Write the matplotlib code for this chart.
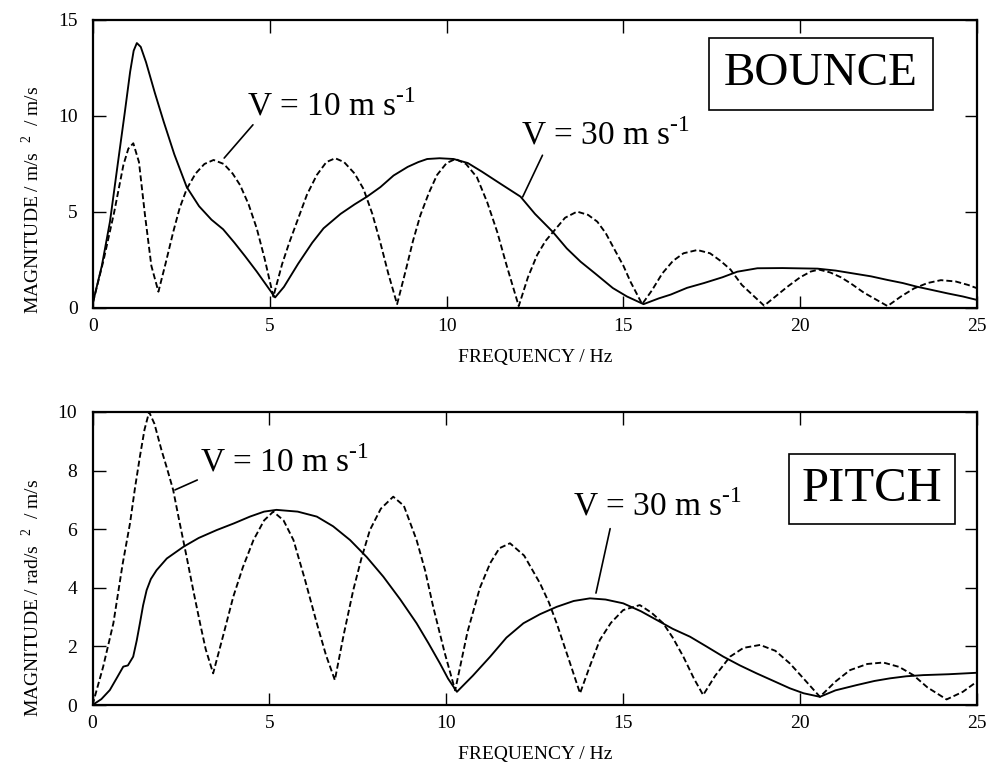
import matplotlib
matplotlib.use("Agg")
import matplotlib.pyplot as plt

plt.rcParams['font.family'] = ['Liberation Serif', 'DejaVu Serif']
plt.rcParams['mathtext.fontset'] = 'custom'
plt.rcParams['mathtext.rm'] = 'Liberation Serif'

# ---------------- BOUNCE data ----------------
bounce_v10_f = [0.0, 0.3, 0.6, 0.86, 1.0, 1.14, 1.3, 1.47, 1.65, 1.85, 2.05, 2.27, 2.45, 2.65, 2.9, 3.15,
                3.41, 3.7, 3.95, 4.16, 4.4, 4.63, 4.85, 5.1, 5.35, 5.55, 5.77, 6.05, 6.33, 6.6, 6.85, 7.1,
                7.4, 7.65, 7.9, 8.12, 8.35, 8.6, 8.85, 9.05, 9.26, 9.5, 9.73, 10.0, 10.25, 10.55, 10.86,
                11.15, 11.43, 11.7, 12.04, 12.3, 12.56, 12.8, 13.03, 13.35, 13.69, 14.0, 14.26, 14.5,
                14.73, 15.0, 15.2, 15.53, 15.8, 16.1, 16.4, 16.7, 17.09, 17.45, 17.75, 18.03, 18.35,
                18.98, 19.3, 19.64, 20.0, 20.3, 20.53, 20.85, 21.15, 21.43, 21.8, 22.47, 22.85, 23.22,
                23.6, 23.98, 24.4, 24.75, 25.0]
bounce_v10_m = [0.3, 2.5, 5.0, 7.45, 8.3, 8.58, 7.6, 4.84, 2.2, 0.85, 2.3, 3.97, 5.2, 6.2, 7.0, 7.5,
                7.71, 7.5, 7.0, 6.4, 5.4, 4.15, 2.6, 0.59, 2.3, 3.4, 4.5, 5.9, 6.93, 7.6, 7.8, 7.6,
                7.0, 6.2, 4.9, 3.45, 1.8, 0.2, 2.0, 3.5, 4.84, 6.0, 6.93, 7.55, 7.76, 7.5, 6.8,
                5.5, 3.97, 2.2, 0.1, 1.6, 2.76, 3.5, 4.0, 4.7, 5.02, 4.85, 4.5, 3.9,
                3.11, 2.2, 1.37, 0.2, 0.9, 1.8, 2.45, 2.85, 3.02, 2.85, 2.45, 2.0, 1.2,
                0.12, 0.6, 1.11, 1.6, 1.9, 2.0, 1.85, 1.6, 1.28, 0.8, 0.1, 0.6, 1.02,
                1.3, 1.45, 1.38, 1.2, 1.03]

bounce_v30_f = [0.0, 0.25, 0.48, 0.7, 0.9, 1.05, 1.15, 1.24, 1.35, 1.5, 1.75, 2.0, 2.3, 2.65, 3.0, 3.35,
                3.68, 4.0, 4.3, 4.63, 4.9, 5.15, 5.4, 5.8, 6.2, 6.52, 7.0, 7.4, 7.75, 8.13, 8.5, 8.9,
                9.2, 9.45, 9.8, 10.2, 10.6, 11.0, 11.5, 12.09, 12.5, 13.0, 13.4, 13.79, 14.2, 14.7,
                15.1, 15.57, 16.0, 16.34, 16.8, 17.28, 17.8, 18.22, 18.79, 19.5, 20.49, 21.0, 21.5,
                22.0, 22.47, 22.9, 23.3, 23.7, 24.17, 24.6, 25.0]
bounce_v30_m = [0.3, 2.2, 4.5, 7.5, 10.2, 12.3, 13.4, 13.8, 13.6, 12.8, 11.2, 9.7, 8.0, 6.3, 5.3, 4.6,
                4.1, 3.4, 2.7, 1.9, 1.2, 0.55, 1.1, 2.3, 3.4, 4.15, 4.9, 5.4, 5.8, 6.3, 6.9, 7.35,
                7.6, 7.76, 7.8, 7.76, 7.55, 7.1, 6.5, 5.8, 4.9, 3.97, 3.1, 2.41, 1.8, 1.04,
                0.6, 0.2, 0.5, 0.7, 1.05, 1.3, 1.6, 1.89, 2.07, 2.08, 2.05, 1.95, 1.8,
                1.65, 1.46, 1.3, 1.11, 0.95, 0.76, 0.6, 0.42]

# ---------------- PITCH data ----------------
pitch_v10_f = [0.0, 0.3, 0.59, 0.85, 1.06, 1.2, 1.34, 1.47, 1.6, 1.75, 1.95, 2.1, 2.28, 2.45, 2.66, 2.85,
               3.04, 3.2, 3.41, 3.7, 3.98, 4.25, 4.55, 4.85, 5.11, 5.4, 5.68, 6.0, 6.34, 6.6, 6.85, 7.1,
               7.37, 7.6, 7.84, 8.15, 8.5, 8.8, 9.16, 9.4, 9.63, 9.95, 10.25, 10.6, 10.95, 11.24, 11.5,
               11.8, 12.2, 12.65, 12.9, 13.12, 13.5, 13.78, 14.05, 14.34, 14.65, 15.0, 15.47, 15.8,
               16.13, 16.4, 16.7, 17.0, 17.26, 17.6, 18.02, 18.4, 18.87, 19.3, 19.71, 20.1, 20.56,
               21.0, 21.41, 21.9, 22.35, 22.8, 23.2, 23.6, 24.14, 24.6, 25.0]
pitch_v10_m = [0.0, 1.3, 2.79, 4.8, 6.2, 7.4, 8.48, 9.4, 10.0, 9.6, 8.7, 8.1, 7.34, 6.3, 5.06, 3.9,
               2.79, 1.9, 1.08, 2.4, 3.7, 4.7, 5.63, 6.3, 6.6, 6.3, 5.63, 4.3, 2.79, 1.7, 0.85, 2.4,
               3.92, 5.0, 5.97, 6.7, 7.11, 6.8, 5.63, 4.6, 3.35, 1.8, 0.5, 2.5, 4.0, 4.84, 5.35,
               5.52, 5.1, 4.15, 3.5, 2.79, 1.42, 0.4, 1.3, 2.22, 2.8, 3.24, 3.41, 3.15,
               2.79, 2.3, 1.65, 0.9, 0.34, 1.0, 1.65, 1.95, 2.05, 1.85, 1.42, 0.9, 0.28,
               0.8, 1.19, 1.4, 1.45, 1.3, 1.02, 0.6, 0.19, 0.45, 0.8]

pitch_v30_f = [0.0, 0.25, 0.49, 0.7, 0.87, 1.0, 1.15, 1.25, 1.34, 1.43, 1.53, 1.65, 1.81, 2.1, 2.57, 3.0,
               3.51, 4.0, 4.45, 4.85, 5.2, 5.8, 6.34, 6.8, 7.28, 7.75, 8.22, 8.7, 9.16, 9.5, 9.82,
               10.05, 10.3, 10.75, 11.24, 11.7, 12.18, 12.65, 13.12, 13.6, 14.06, 14.5, 15.0, 15.5,
               15.95, 16.4, 16.89, 17.35, 17.83, 18.3, 18.77, 19.25, 19.71, 20.1, 20.56, 21.0, 21.6,
               22.1, 22.54, 23.0, 23.48, 24.2, 25.0]
pitch_v30_m = [0.0, 0.2, 0.51, 0.95, 1.31, 1.35, 1.65, 2.2, 2.79, 3.4, 3.92, 4.3, 4.6, 5.0, 5.4, 5.7,
               5.97, 6.2, 6.43, 6.6, 6.66, 6.6, 6.43, 6.1, 5.63, 5.05, 4.38, 3.6, 2.79, 2.1, 1.42,
               0.9, 0.45, 1.0, 1.65, 2.3, 2.79, 3.1, 3.35, 3.55, 3.64, 3.6, 3.47, 3.2,
               2.9, 2.6, 2.33, 2.0, 1.65, 1.35, 1.08, 0.82, 0.57, 0.4, 0.28, 0.5, 0.68,
               0.82, 0.91, 0.98, 1.02, 1.05, 1.1]

x_ticks = [0, 5, 10, 15, 20, 25]
bounce_yticks = [0, 5, 10, 15]
pitch_yticks = [0, 2, 4, 6, 8, 10]

fig = plt.figure(figsize=(9.92, 7.76), dpi=100)
ax1 = fig.add_axes([93/992, 1-308/776, 884/992, 288/776])
ax2 = fig.add_axes([92.5/992, 1-705/776, 884.5/992, 293/776])

dash = (3.2, 1.6)
lw = 1.35
HY = '\u2010'

def style(ax, yticks, ylim, ylabel, ylab_y):
    ax.set_xlim(0, 25)
    ax.set_ylim(*ylim)
    ax.set_xticks(x_ticks)
    ax.set_yticks(yticks)
    ax.tick_params(direction='in', length=9, width=1.0, top=True, right=True,
                   labelsize=14, labeltop=False, labelright=False)
    ax.tick_params(axis='x', pad=7)
    ax.tick_params(axis='y', pad=11)
    for s in ax.spines.values():
        s.set_linewidth(1.6)
    ax.set_xlabel('FREQUENCY / Hz', fontsize=14, labelpad=10)
    ax.set_ylabel(ylabel, fontsize=14)
    ax.yaxis.set_label_coords(-0.056, ylab_y)

# BOUNCE
ax1.plot(bounce_v30_f, bounce_v30_m, color='black', lw=lw)
ax1.plot(bounce_v10_f, bounce_v10_m, color='black', lw=lw, dashes=dash)
style(ax1, bounce_yticks, (0, 15), r'MAGNITUDE / m/s  $^{\mathregular{2}}$  / m/s', 0.375)
ax1.annotate('V = 10 m s$^{\\mathregular{' + HY + '1}}$', xy=(3.71, 7.81), xytext=(4.36, 10.05),
             fontsize=24, ha='left', va='baseline',
             arrowprops=dict(arrowstyle='-', color='black', lw=1.2,
                             shrinkA=0, shrinkB=0, relpos=(0.04, -0.05)))
ax1.annotate('V = 30 m s$^{\\mathregular{' + HY + '1}}$', xy=(12.15, 5.78), xytext=(12.09, 8.49),
             fontsize=24, ha='left', va='baseline',
             arrowprops=dict(arrowstyle='-', color='black', lw=1.2,
                             shrinkA=0, shrinkB=0, relpos=(0.13, -0.1)))
ax1.text(20.58, 12.19, 'BOUNCE', fontsize=34, ha='center', va='center',
         bbox=dict(boxstyle='square,pad=0.32', fc='white', ec='black', lw=1.2))

# PITCH
ax2.plot(pitch_v30_f, pitch_v30_m, color='black', lw=lw)
ax2.plot(pitch_v10_f, pitch_v10_m, color='black', lw=lw, dashes=dash)
style(ax2, pitch_yticks, (0, 10), r'MAGNITUDE / rad/s  $^{\mathregular{2}}$  / m/s', 0.365)
ax2.annotate('V = 10 m s$^{\\mathregular{' + HY + '1}}$', xy=(2.33, 7.34), xytext=(3.04, 7.96),
             fontsize=24, ha='left', va='baseline',
             arrowprops=dict(arrowstyle='-', color='black', lw=1.2,
                             shrinkA=0, shrinkB=0, relpos=(0.0, 0.0)))
ax2.annotate('V = 30 m s$^{\\mathregular{' + HY + '1}}$', xy=(14.23, 3.82), xytext=(13.58, 6.48),
             fontsize=24, ha='left', va='baseline',
             arrowprops=dict(arrowstyle='-', color='black', lw=1.2,
                             shrinkA=0, shrinkB=0, relpos=(0.22, -0.2)))
ax2.text(22.02, 7.37, 'PITCH', fontsize=35, ha='center', va='center',
         bbox=dict(boxstyle='square,pad=0.26', fc='white', ec='black', lw=1.2))

fig.savefig('out.png', dpi=100)
